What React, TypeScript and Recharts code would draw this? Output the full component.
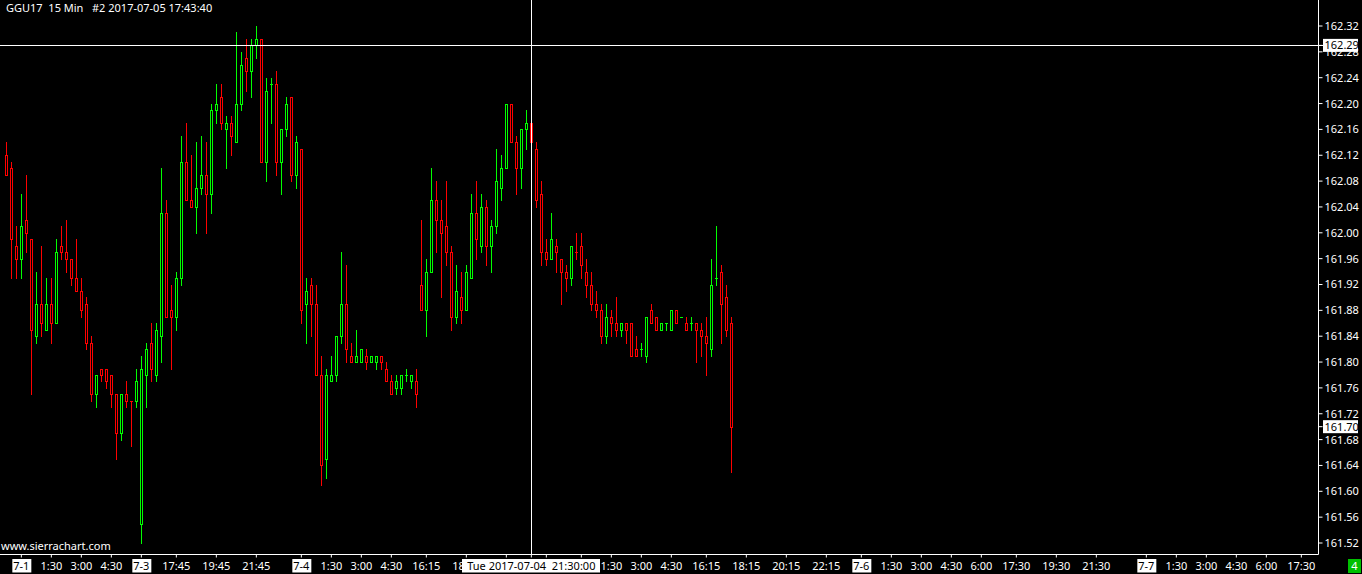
import React from 'react';
import { ComposedChart, Bar, XAxis, YAxis, ReferenceLine } from 'recharts';

// ---- data (15-minute bars, GGU17) ----
const opens = [
  162.12, 162.10, 161.98, 161.96, 162.02, 161.99, 161.84, 161.89, 161.85, 161.89,
  161.86, 161.98, 161.97, 161.96, 161.93, 161.91, 161.89, 161.83, 161.75, 161.79,
  161.79, 161.78, 161.75, 161.69, 161.75, 161.74, 161.74, 161.55, 161.78, 161.83,
  161.78, 161.84, 162.03, 161.88, 161.87, 161.93, 162.11, 162.05, 162.04, 162.07,
  162.09, 162.06, 162.19, 162.21, 162.16, 162.17, 162.14, 162.20, 162.27, 162.25,
  162.29, 162.30, 162.11, 162.23, 162.23, 162.11, 162.16, 162.21, 162.09, 162.13,
  161.89, 161.92, 161.89, 161.78, 161.65, 161.77, 161.78, 161.84, 161.89, 161.81,
  161.80, 161.80, 161.81, 161.80, 161.80, 161.81, 161.79, 161.77, 161.76, 161.76,
  161.78, 161.77, 161.77, 161.92, 161.88, 161.94, 162.05, 162.02, 162.01, 161.97,
  161.87, 161.90, 161.88, 161.93, 162.03, 161.98, 162.04, 161.98, 162.01, 162.07,
  162.10, 162.20, 162.14, 162.10, 162.16, 162.17, 162.13, 162.06, 161.97, 161.96,
  161.98, 161.96, 161.94, 161.93, 161.97, 161.98, 161.94, 161.92, 161.89, 161.88,
  161.84, 161.87, 161.86, 161.85, 161.86, 161.86, 161.82, 161.82, 161.81, 161.88,
  161.87, 161.85, 161.86, 161.85, 161.88, 161.87, 161.86, 161.86, 161.86, 161.85,
  161.84, 161.82, 161.93, 161.94, 161.90, 161.86,
];
const highs = [
  162.14, 162.11, 162.01, 162.06, 162.09, 161.99, 161.94, 161.98, 161.93, 161.93,
  161.99, 162.01, 162.02, 161.96, 161.99, 161.93, 161.90, 161.84, 161.78, 161.79,
  161.79, 161.78, 161.75, 161.75, 161.77, 161.74, 161.79, 161.81, 161.83, 161.86,
  161.86, 162.10, 162.05, 161.92, 161.94, 162.15, 162.17, 162.12, 162.14, 162.15,
  162.14, 162.20, 162.23, 162.23, 162.18, 162.18, 162.31, 162.28, 162.30, 162.30,
  162.32, 162.30, 162.24, 162.24, 162.25, 162.16, 162.21, 162.21, 162.15, 162.13,
  161.93, 161.93, 161.92, 161.81, 161.79, 161.81, 161.84, 161.97, 161.95, 161.83,
  161.85, 161.82, 161.82, 161.81, 161.81, 161.81, 161.80, 161.78, 161.78, 161.78,
  161.79, 161.78, 161.79, 162.02, 161.96, 162.10, 162.08, 162.05, 162.08, 161.98,
  161.95, 161.94, 161.95, 162.06, 162.08, 162.06, 162.05, 162.02, 162.13, 162.12,
  162.20, 162.20, 162.15, 162.16, 162.19, 162.18, 162.14, 162.08, 161.99, 162.03,
  161.99, 161.96, 161.95, 161.98, 162.00, 162.00, 161.96, 161.94, 161.91, 161.89,
  161.89, 161.88, 161.90, 161.86, 161.86, 161.86, 161.84, 161.83, 161.87, 161.89,
  161.87, 161.86, 161.86, 161.88, 161.88, 161.87, 161.87, 161.87, 161.86, 161.86,
  161.87, 161.96, 162.01, 161.95, 161.92, 161.87,
];
const lows = [
  162.09, 161.93, 161.93, 161.93, 161.97, 161.75, 161.83, 161.84, 161.85, 161.83,
  161.86, 161.96, 161.94, 161.92, 161.91, 161.87, 161.82, 161.74, 161.73, 161.77,
  161.76, 161.73, 161.65, 161.68, 161.73, 161.67, 161.73, 161.52, 161.73, 161.77,
  161.77, 161.80, 161.87, 161.79, 161.85, 161.92, 162.05, 162.04, 162.00, 162.06,
  162.00, 162.03, 162.17, 162.16, 162.10, 162.12, 162.14, 162.19, 162.22, 162.21,
  162.27, 162.11, 162.08, 162.17, 162.09, 162.06, 162.15, 162.08, 162.07, 161.86,
  161.83, 161.84, 161.78, 161.61, 161.62, 161.77, 161.77, 161.83, 161.80, 161.80,
  161.80, 161.80, 161.79, 161.80, 161.79, 161.79, 161.77, 161.75, 161.75, 161.75,
  161.77, 161.76, 161.73, 161.88, 161.84, 161.94, 161.97, 161.90, 161.95, 161.85,
  161.86, 161.86, 161.88, 161.93, 161.96, 161.97, 161.95, 161.94, 162.00, 162.05,
  162.10, 162.14, 162.06, 162.07, 162.13, 162.12, 162.04, 161.95, 161.95, 161.96,
  161.94, 161.89, 161.91, 161.92, 161.96, 161.93, 161.90, 161.88, 161.87, 161.83,
  161.83, 161.84, 161.84, 161.84, 161.83, 161.81, 161.81, 161.81, 161.80, 161.86,
  161.85, 161.85, 161.85, 161.85, 161.86, 161.87, 161.85, 161.85, 161.80, 161.81,
  161.78, 161.81, 161.92, 161.83, 161.84, 161.63,
];
const closes = [
  162.09, 161.99, 161.96, 162.01, 162.00, 161.85, 161.89, 161.86, 161.89, 161.86,
  161.97, 161.97, 161.96, 161.93, 161.91, 161.88, 161.83, 161.75, 161.78, 161.78,
  161.77, 161.75, 161.69, 161.75, 161.74, 161.74, 161.77, 161.79, 161.82, 161.79,
  161.85, 162.03, 161.87, 161.87, 161.93, 162.11, 162.05, 162.04, 162.07, 162.09,
  162.06, 162.19, 162.20, 162.17, 162.17, 162.15, 162.20, 162.26, 162.25, 162.29,
  162.30, 162.11, 162.22, 162.23, 162.11, 162.16, 162.20, 162.09, 162.14, 161.88,
  161.91, 161.89, 161.78, 161.64, 161.78, 161.78, 161.84, 161.89, 161.82, 161.80,
  161.81, 161.82, 161.80, 161.81, 161.81, 161.80, 161.77, 161.75, 161.77, 161.78,
  161.78, 161.78, 161.75, 161.88, 161.94, 162.05, 162.02, 162.00, 161.97, 161.87,
  161.91, 161.88, 161.94, 162.03, 161.99, 162.04, 161.98, 162.01, 162.08, 162.10,
  162.20, 162.14, 162.10, 162.16, 162.17, 162.14, 162.05, 161.97, 161.96, 161.99,
  161.97, 161.94, 161.93, 161.98, 161.97, 161.95, 161.92, 161.89, 161.88, 161.84,
  161.87, 161.86, 161.85, 161.86, 161.85, 161.81, 161.81, 161.82, 161.87, 161.86,
  161.85, 161.86, 161.86, 161.88, 161.86, 161.87, 161.85, 161.86, 161.85, 161.84,
  161.83, 161.92, 161.93, 161.89, 161.85, 161.70,
];

const xTickIndex = [
  3, 9, 15, 21, 27, 34, 42, 50, 59, 65, 71, 77, 84, 92, 100, 108, 115, 121, 127, 133,
  140, 148, 156, 164, 171, 177, 183, 189, 195, 202, 210, 218, 228, 234, 240, 246, 252, 259,
];
// labels under the crosshair time box are hidden in the reference (empty strings)
const xTickLabels = [
  '7-1', '1:30', '3:00', '4:30', '7-3', '17:45', '19:45', '21:45', '7-4', '1:30', '3:00', '4:30',
  '16:15', '18:15', '', '', '', '1:30', '3:00', '4:30', '16:15', '18:15', '20:15',
  '22:15', '7-6', '1:30', '3:00', '4:30', '6:00', '17:30', '19:30', '21:30', '7-7', '1:30',
  '3:00', '4:30', '6:00', '17:30',
];
const yTicks = [
  161.52, 161.56, 161.6, 161.64, 161.68, 161.72, 161.76, 161.8, 161.84, 161.88, 161.92,
  161.96, 162.0, 162.04, 162.08, 162.12, 162.16, 162.2, 162.24, 162.28, 162.32,
];

const titleText = 'GGU17  15 Min   #2 2017-07-05 17:43:40';
const watermark = 'www.sierrachart.com';
const cursorIndex = 105;
const cursorTimeLabel = 'Tue 2017-07-04  21:30:00';
const cursorPrice = 162.29;
const lastPrice = closes[closes.length - 1];
const counterText = '4';

// ---- layout ----
const W = 1362;
const H = 574;
const AXIS_W = 43.5;
const AXIS_H = 19.5;
const PLOT_W = W - AXIS_W;
const PLOT_H = H - AXIS_H;
const BAR_STEP = 5;
const X_MIN = -1.266;
const X_MAX = X_MIN + PLOT_W / BAR_STEP;
const PX_PER_PRICE = 646.25;
const Y_MAX = 162.32 + 26 / PX_PER_PRICE;
const Y_MIN = Y_MAX - PLOT_H / PX_PER_PRICE;

const UP = '#00ff00';
const DOWN = '#ff0000';
const FONT = '"Noto Sans", "Open Sans", sans-serif';

let prevUp = false;
const candles = opens.map((o, i) => {
  const c = closes[i];
  let up: boolean;
  if (c > o) up = true;
  else if (c < o) up = false;
  else {
    const pc = i > 0 ? closes[i - 1] : c;
    up = c > pc ? true : c < pc ? false : prevUp;
  }
  prevUp = up;
  return { i, o, h: highs[i], l: lows[i], c, up, range: [lows[i], highs[i]] };
});

const CandleShape = (props: any) => {
  const { x, y, width, height, payload } = props;
  if (!payload || x == null || y == null) return null;
  const { o, h, l, c, up } = payload;
  const top = Math.min(y, y + (height || 0));
  const hh = Math.abs(height || 0);
  const py = (p: number) => (h === l ? top : top + ((h - p) / (h - l)) * hh);
  const color = up ? UP : DOWN;
  const px = Math.floor(x + width / 2);
  const yH = Math.round(py(h));
  const yL = Math.round(py(l));
  const yT = Math.round(py(Math.max(o, c)));
  const yB = Math.round(py(Math.min(o, c)));
  return (
    <g>
      <line x1={px + 0.5} x2={px + 0.5} y1={yH} y2={yL + 1} stroke={color} strokeWidth={1} />
      {yB > yT ? (
        <rect x={px - 0.5} y={yT + 0.5} width={2} height={yB - yT} fill="#000" stroke={color} strokeWidth={1} />
      ) : (
        <line x1={px - 1} x2={px + 2} y1={yT + 0.5} y2={yT + 0.5} stroke={color} strokeWidth={1} />
      )}
    </g>
  );
};

const XTick = (props: any) => {
  const { x, y, payload } = props;
  const v = payload.value;
  if (v === cursorIndex) {
    return (
      <g>
        <rect x={Math.floor(x) - 69} y={y - 0.5} width={138} height={13.5} fill="#fff" />
        <text x={x} y={y + 10} textAnchor="middle" fill="#000" fontSize={11} fontFamily={FONT} style={{ whiteSpace: 'pre' }}>
          {cursorTimeLabel}
        </text>
      </g>
    );
  }
  const k = xTickIndex.indexOf(v);
  const label = k >= 0 ? xTickLabels[k] : '';
  if (!label) return <g />;
  const isDate = label.includes('-');
  return (
    <g>
      {isDate && <rect x={x - 9} y={y - 0.5} width={19} height={13.5} fill="#fff" />}
      <text x={x} y={y + 10} textAnchor="middle" fill={isDate ? '#000' : '#fff'} fontSize={11} fontFamily={FONT}>
        {label}
      </text>
    </g>
  );
};

const YTick = (props: any) => {
  const { x, y, payload } = props;
  const v = payload.value;
  const boxed = v === cursorPrice || v === lastPrice;
  return (
    <g>
      {boxed && <rect x={x - 1.5} y={y - 6.5} width={35} height={13} fill="#fff" />}
      <text x={x} y={y} dy="0.36em" textAnchor="start" fill={boxed ? '#000' : '#fff'} fontSize={11} fontFamily={FONT}>
        {v.toFixed(2)}
      </text>
    </g>
  );
};

const CrispLine = (p: any) => {
  const { x1, y1, x2, y2 } = p;
  if (x1 == null) return null;
  if (Math.abs(x1 - x2) < 0.01) {
    const xx = Math.floor(x1) + 0.5;
    return <line x1={xx} x2={xx} y1={Math.min(y1, y2)} y2={Math.max(y1, y2)} stroke="#fff" strokeWidth={1} />;
  }
  const yy = Math.floor(y1) + 0.5;
  return <line x1={0} x2={Math.max(x1, x2) + 6} y1={yy} y2={yy} stroke="#fff" strokeWidth={1} />;
};

export default function App() {
  return (
    <div style={{ position: 'absolute', left: 0, top: 0, width: W, height: H, background: '#000', overflow: 'hidden' }}>
      <ComposedChart width={W} height={H} data={candles} margin={{ top: 0, right: 0, bottom: 0, left: 0 }}>
        <XAxis
          dataKey="i"
          type="number"
          domain={[X_MIN, X_MAX]}
          allowDataOverflow
          ticks={[...xTickIndex, cursorIndex]}
          interval={0}
          tick={<XTick />}
          tickSize={3}
          tickMargin={2}
          height={AXIS_H}
          axisLine={{ stroke: '#fff' }}
          tickLine={{ stroke: '#fff' }}
        />
        <YAxis
          orientation="right"
          type="number"
          domain={[Y_MIN, Y_MAX]}
          allowDataOverflow
          ticks={[...yTicks, cursorPrice, lastPrice]}
          interval={0}
          tick={<YTick />}
          tickSize={4}
          tickMargin={2}
          width={AXIS_W}
          axisLine={{ stroke: '#fff' }}
          tickLine={{ stroke: '#fff' }}
        />
        <Bar dataKey="range" barSize={3} shape={<CandleShape />} isAnimationActive={false} />
        <ReferenceLine x={cursorIndex} stroke="#fff" shape={<CrispLine />} />
        <ReferenceLine y={cursorPrice} stroke="#fff" shape={<CrispLine />} />
      </ComposedChart>
      <div style={{ position: 'absolute', left: 6, top: 0, color: '#fff', fontFamily: FONT, fontSize: 11, whiteSpace: 'pre', lineHeight: 'normal' }}>
        {titleText}
      </div>
      <div style={{ position: 'absolute', left: 1, top: 538, color: '#fff', fontFamily: FONT, fontSize: 11, whiteSpace: 'pre', lineHeight: 'normal' }}>
        {watermark}
      </div>
      <div
        style={{
          position: 'absolute',
          left: 1348,
          top: 559,
          width: 13,
          height: 14,
          background: '#00c000',
          color: '#fff',
          fontFamily: FONT,
          fontSize: 11,
          lineHeight: '14px',
          textAlign: 'center',
        }}
      >
        {counterText}
      </div>
    </div>
  );
}
